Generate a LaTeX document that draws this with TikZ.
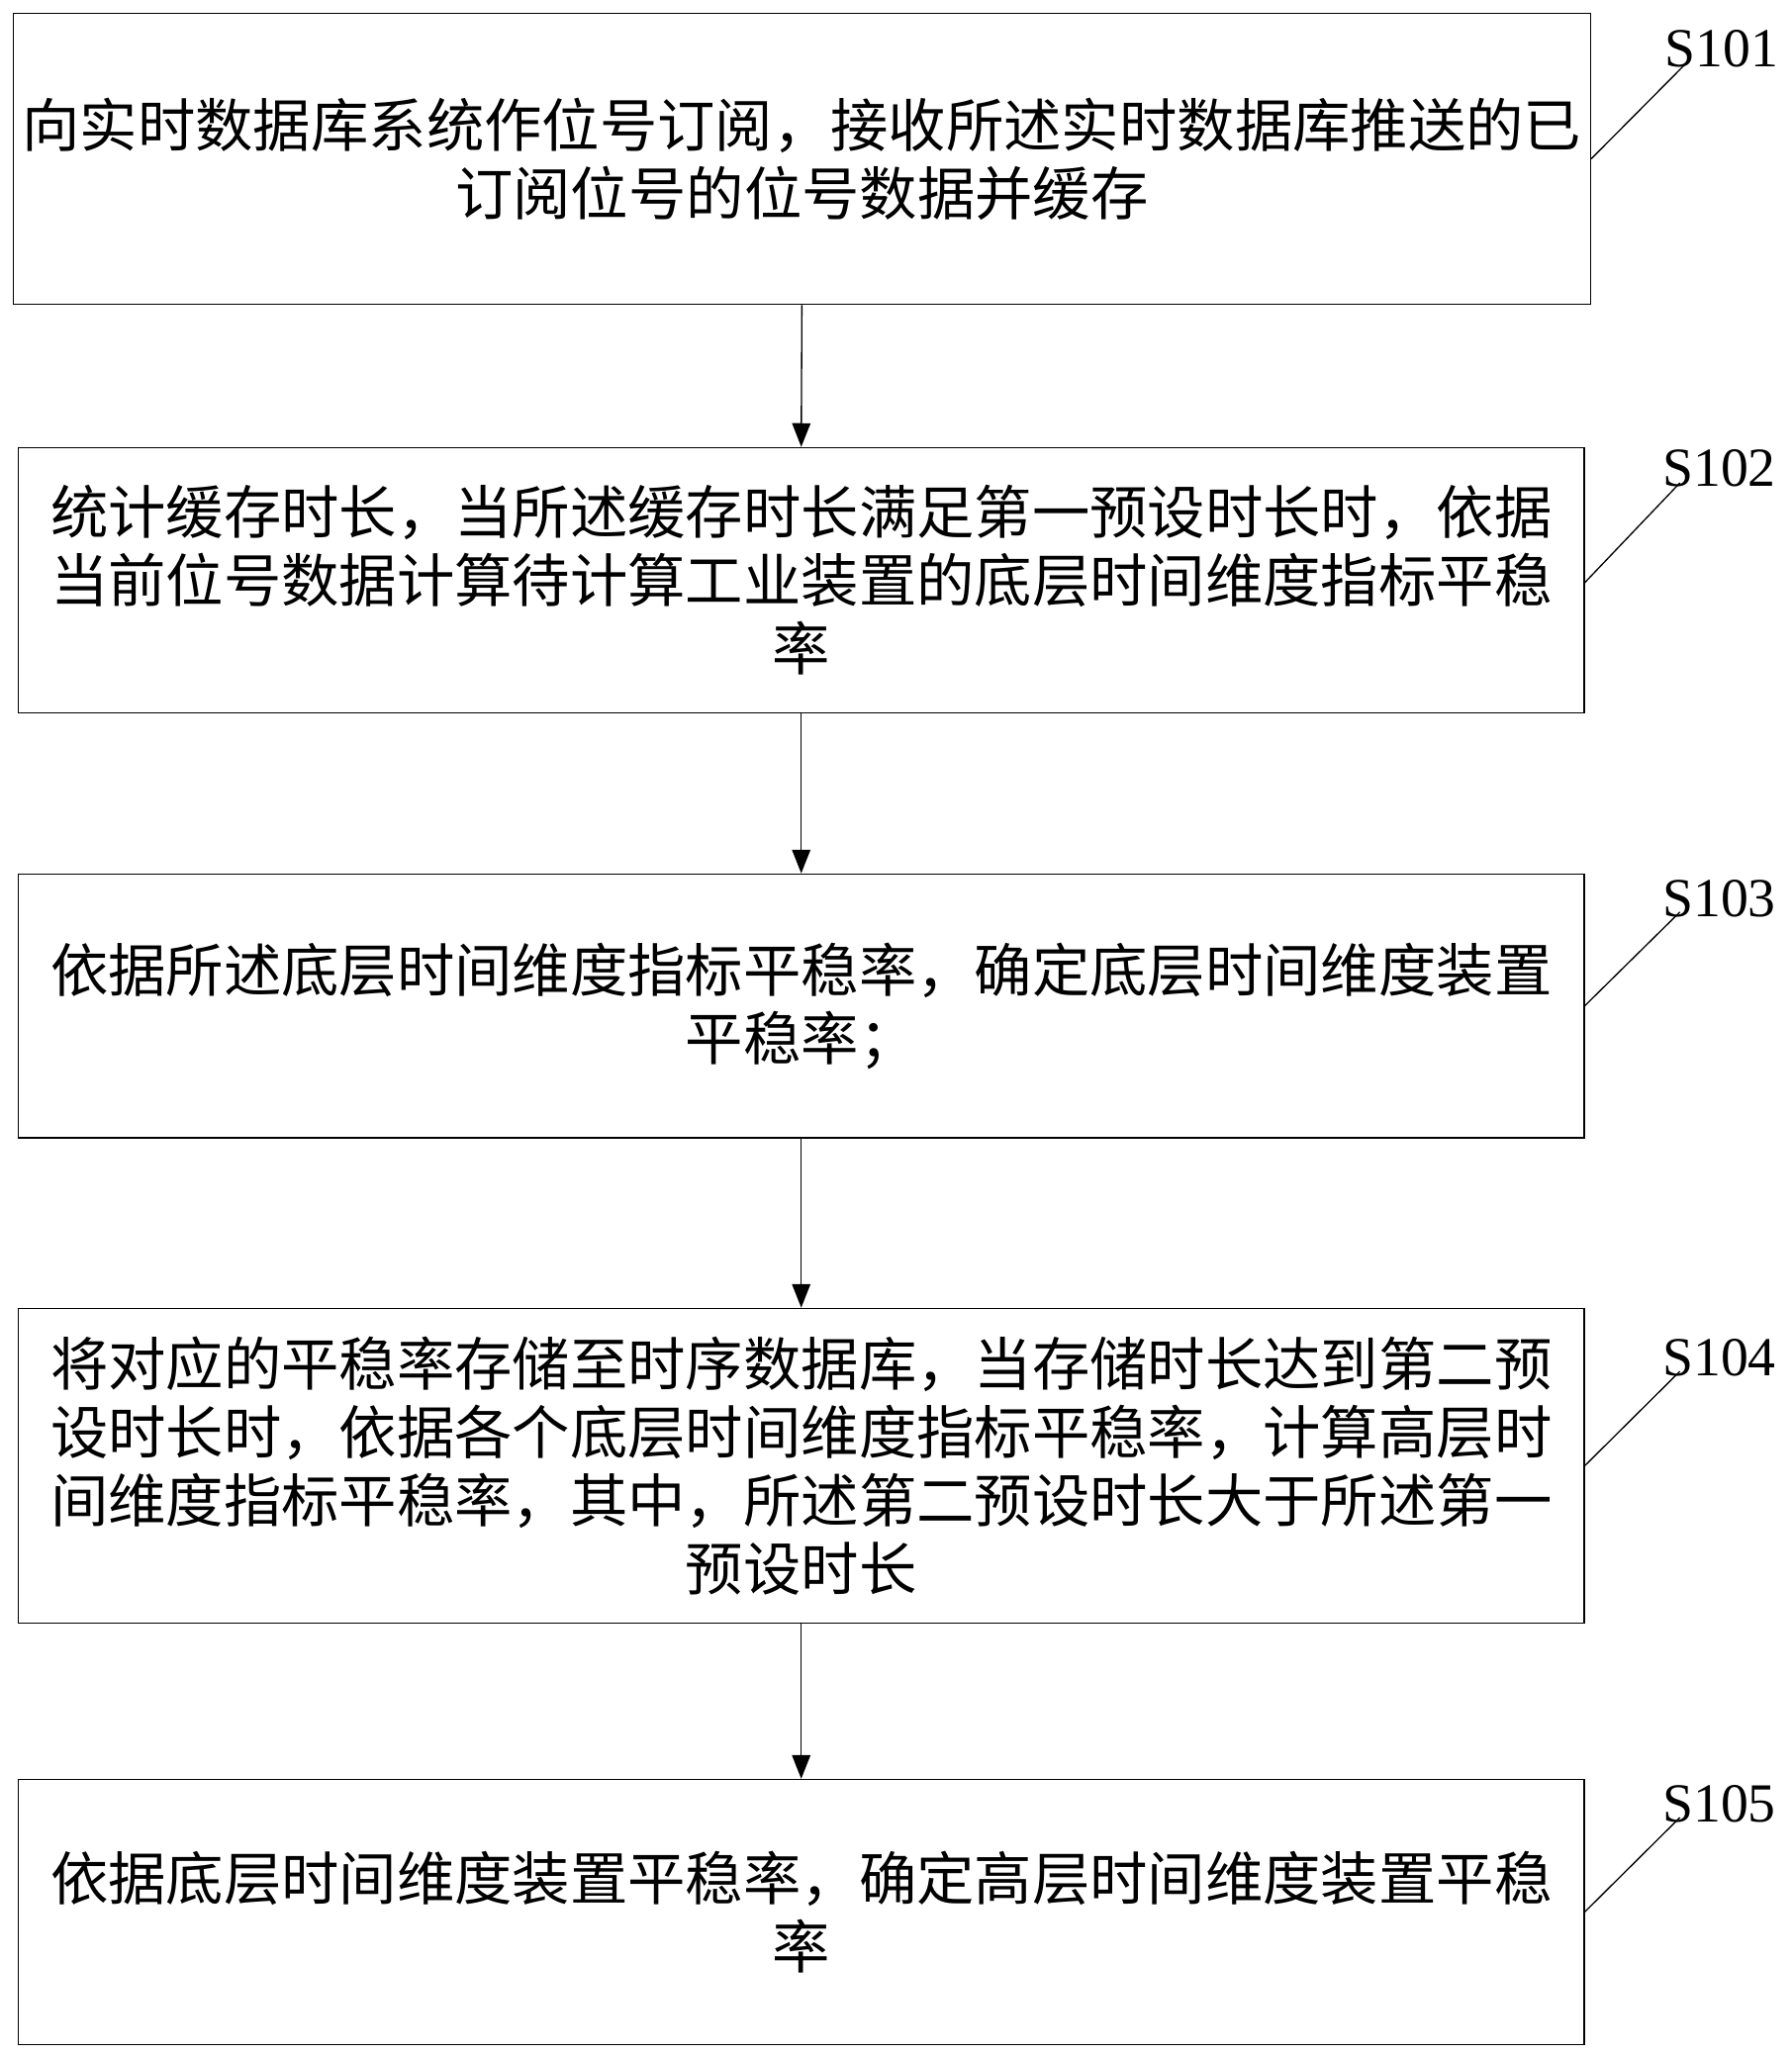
\documentclass[tikz,border=0pt]{standalone}
\usepackage{fontspec}
\setmainfont{Liberation Serif}
\newfontfamily\cjk{Noto Sans CJK SC}
\usetikzlibrary{arrows.meta}
\begin{document}
\begin{tikzpicture}[x=1pt,y=-1pt,
  stepbox/.style={draw,line width=1pt,minimum width=1193pt,inner sep=0pt,align=center,
    font=\cjk\fontsize{44}{52}\selectfont},
  steplabel/.style={font=\fontsize{42}{48}\selectfont,inner sep=0pt},
  flow/.style={line width=1pt,-{Triangle[length=18pt,width=14pt]}},
  leader/.style={line width=1pt}]
\useasboundingbox (0,0) rectangle (1365,1566);
\node[stepbox,minimum width=1202pt,minimum height=222pt] (b1) at (611,121)
  {向实时数据库系统作位号订阅，接收所述实时数据库推送的已\\订阅位号的位号数据并缓存};
\node[stepbox,minimum height=202pt] (b2) at (610.5,442)
  {统计缓存时长，当所述缓存时长满足第一预设时长时，依据\\当前位号数据计算待计算工业装置的底层时间维度指标平稳\\率};
\node[stepbox,minimum height=201pt] (b3) at (610.5,766.5)
  {依据所述底层时间维度指标平稳率，确定底层时间维度装置\\平稳率；};
\node[stepbox,minimum height=240pt] (b4) at (610.5,1117)
  {将对应的平稳率存储至时序数据库，当存储时长达到第二预\\设时长时，依据各个底层时间维度指标平稳率，计算高层时\\间维度指标平稳率，其中，所述第二预设时长大于所述第一\\预设时长};
\node[stepbox,minimum height=202pt] (b5) at (610.5,1457)
  {依据底层时间维度装置平稳率，确定高层时间维度装置平稳\\率};
\draw[flow] (b1.south) -- (b2.north);
\draw[flow] (b2.south) -- (b3.north);
\draw[flow] (b3.south) -- (b4.north);
\draw[flow] (b4.south) -- (b5.north);
\node[steplabel] (l1) at (1312,37) {S101};
\node[steplabel] (l2) at (1310,357) {S102};
\node[steplabel] (l3) at (1310,685) {S103};
\node[steplabel] (l4) at (1310,1035) {S104};
\node[steplabel] (l5) at (1310,1375) {S105};
\coordinate (c1) at (1285,48);
\coordinate (c2) at (1280,368);
\coordinate (c3) at (1280,695);
\coordinate (c4) at (1280,1045);
\coordinate (c5) at (1280,1385);
\draw[leader] (b1.east) -- (c1);
\draw[leader] ([yshift=-2pt]b2.east) -- (c2);
\draw[leader] (b3.east) -- (c3);
\draw[leader] (b4.east) -- (c4);
\draw[leader] (b5.east) -- (c5);
\end{tikzpicture}
\end{document}
